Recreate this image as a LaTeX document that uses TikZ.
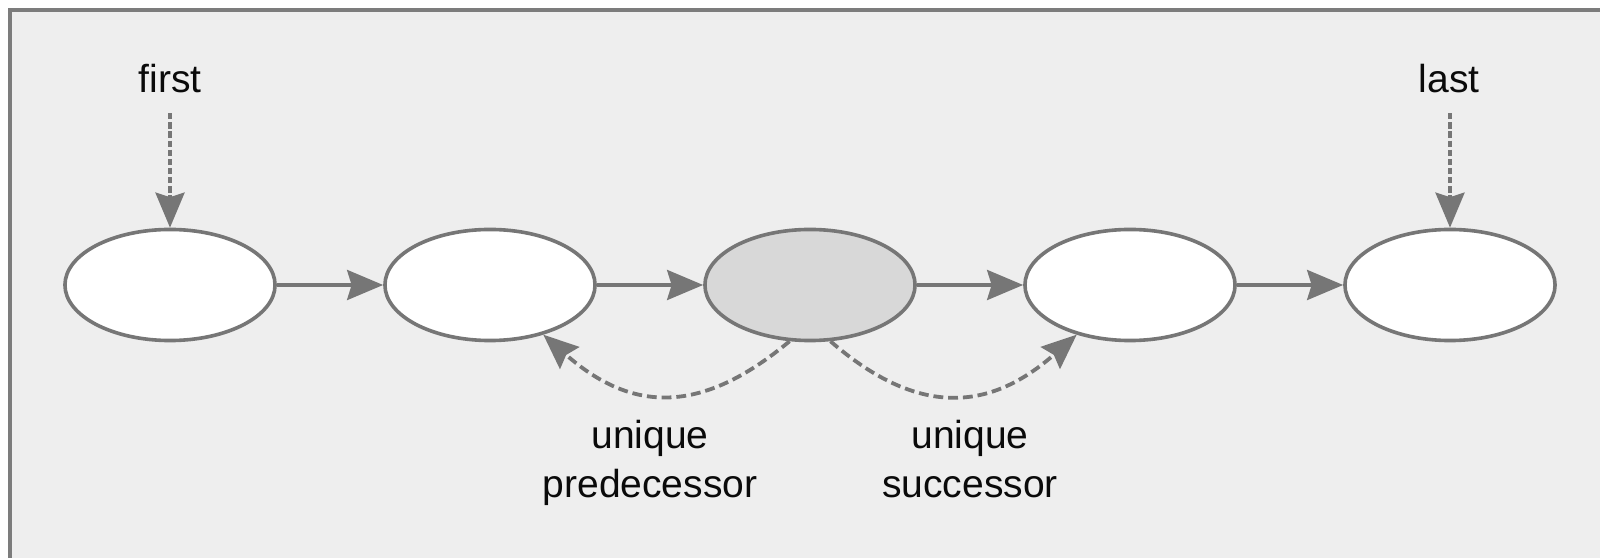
\documentclass[tikz,border=0pt]{standalone}
\usepackage{fontspec}
\setmainfont{Liberation Sans}
\usetikzlibrary{arrows.meta,shapes.geometric}
\definecolor{bgc}{HTML}{EEEEEE}
\definecolor{framec}{HTML}{7C7C7C}
\definecolor{lg}{HTML}{767676}
\definecolor{grayfill}{HTML}{D8D8D8}
\definecolor{txt}{HTML}{0A0A0A}
\tikzset{
  oval/.style={ellipse, draw=lg, line width=0.036cm, fill=white,
    minimum width=2.1cm, minimum height=1.11cm, inner sep=0pt},
  lbl/.style={text=txt, inner sep=0pt, align=center,
    font=\fontsize{11.1pt}{13.9pt}\selectfont},
  solidarrow/.style={draw=lg, line width=0.036cm,
    -{Stealth[length=0.36cm,width=0.30cm,inset=0.045cm]}},
  vdash/.style={draw=lg, line width=0.036cm, dash pattern=on 1.8pt off 0.8pt,
    -{Stealth[length=0.35cm,width=0.29cm,inset=0.045cm]}},
  cdash/.style={draw=lg, line width=0.038cm, dash pattern=on 2.8pt off 1.4pt,
    -{Stealth[length=0.35cm,width=0.29cm,inset=0.045cm]}}
}
\begin{document}
\begin{tikzpicture}[x=0.01cm,y=-0.01cm]
\useasboundingbox (0,0) rectangle (1600,558);
\fill[white] (0,0) rectangle (1600,558);
\fill[bgc] (10,10) rectangle (1600,558);
\draw[framec, line width=0.04cm] (10,558) -- (10,10) -- (1600,10);

\node[oval] (e1) at (170,285) {};
\node[oval] (e2) at (490,285) {};
\node[oval, fill=grayfill] (e3) at (810,285) {};
\node[oval] (e4) at (1130,285) {};
\node[oval] (e5) at (1450,285) {};

\node[lbl, anchor=base] (first) at (170,93) {first};
\node[lbl, anchor=base] (last) at (1449,93) {last};
\node[lbl, anchor=north] (pred) at (650,420) {unique\\predecessor};
\node[lbl, anchor=north] (succ) at (970,420) {unique\\successor};

\draw[solidarrow] (e1) -- (e2);
\draw[solidarrow] (e2) -- (e3);
\draw[solidarrow] (e3) -- (e4);
\draw[solidarrow] (e4) -- (e5);

\draw[vdash] (e1.north |- first.south) ++(0,19) -- (e1.north);
\draw[vdash] (e5.north |- last.south) ++(0,19) -- (e5.north);

\draw[cdash] (e3.250) .. controls (701,415) and (632,413) .. (e2.-43);
\draw[cdash] (e3.-70) .. controls (919,418) and (990,411) .. (e4.-137);
\end{tikzpicture}
\end{document}
